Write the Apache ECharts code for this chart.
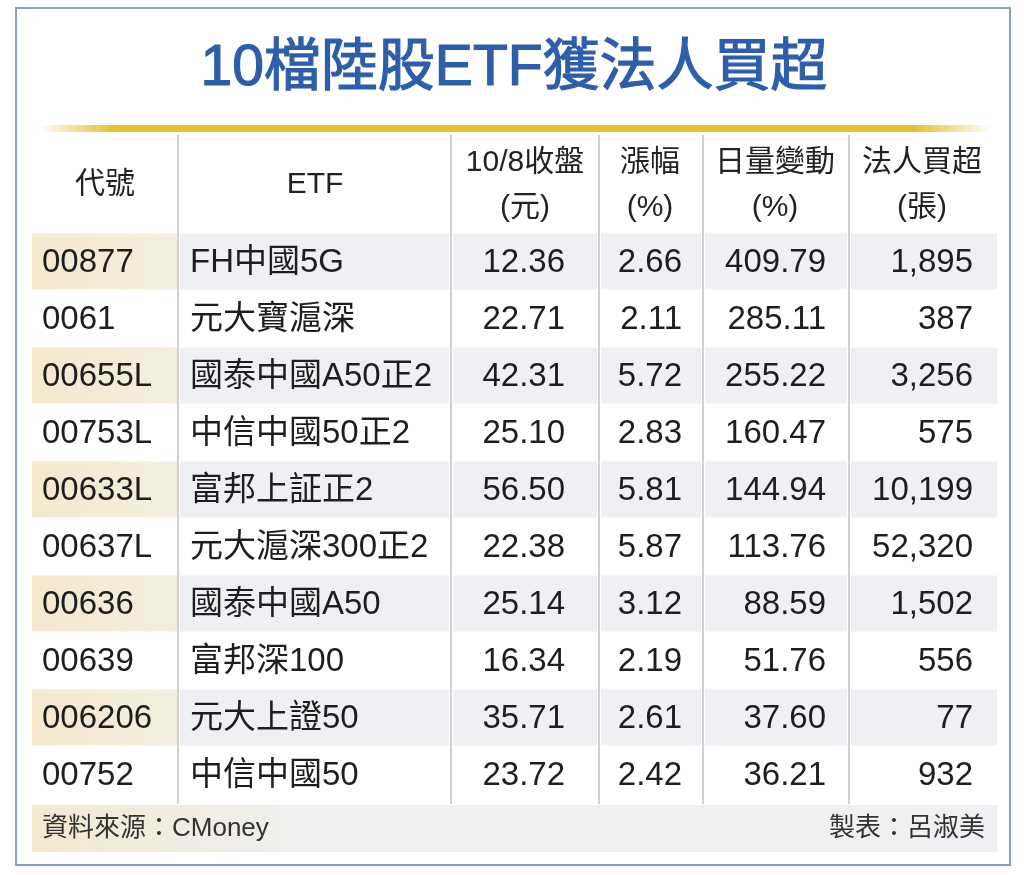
<!DOCTYPE html>
<html>
<head>
<meta charset="utf-8">
<title>10檔陸股ETF獲法人買超</title>
<script src="https://cdn.jsdelivr.net/npm/echarts@6/dist/echarts.min.js"></script>
<style>
html, body { margin: 0; padding: 0; background: #fff; }
#table { width: 1024px; height: 875px; }
</style>
</head>
<body>
<div id="table"></div>
<script>
/* 資料 */
var codes = ['00877', '0061', '00655L', '00753L', '00633L', '00637L', '00636', '00639', '006206', '00752'];
var names = ['FH中國5G', '元大寶滬深', '國泰中國A50正2', '中信中國50正2', '富邦上証正2', '元大滬深300正2', '國泰中國A50', '富邦深100', '元大上證50', '中信中國50'];
var closePrice = [12.36, 22.71, 42.31, 25.10, 56.50, 22.38, 25.14, 16.34, 35.71, 23.72];
var changePct = [2.66, 2.11, 5.72, 2.83, 5.81, 5.87, 3.12, 2.19, 2.61, 2.42];
var volumeChange = [409.79, 285.11, 255.22, 160.47, 144.94, 113.76, 88.59, 51.76, 37.60, 36.21];
var netBuy = [1895, 387, 3256, 575, 10199, 52320, 1502, 556, 77, 932];

var headers = [['代號'], ['ETF'], ['10/8收盤', '(元)'], ['漲幅', '(%)'], ['日量變動', '(%)'], ['法人買超', '(張)']];

var FONT = '"Liberation Sans", "Noto Sans CJK TC", sans-serif';

/* 欄位位置 */
var colX = [42, 190, 565, 682, 826, 973];
var colAlign = ['left', 'left', 'right', 'right', 'right', 'right'];
var headCenter = [105, 315, 525, 650, 775, 922];
var sepX = [178, 451, 599, 703, 849];

var columns = [
    codes,
    names,
    closePrice.map(function (v) { return v.toFixed(2); }),
    changePct.map(function (v) { return v.toFixed(2); }),
    volumeChange.map(function (v) { return v.toFixed(2); }),
    netBuy.map(function (v) { return v.toLocaleString('en-US'); })
];

var cells = [];
var cellData = [];
for (var c = 0; c < columns.length; c++) {
    for (var r = 0; r < columns[c].length; r++) {
        cells.push({ col: c, text: columns[c][r] });
        cellData.push([colX[c], r]);
    }
}

var bandData = [];
for (var i = 0; i < codes.length; i += 2) {
    bandData.push([0, i]);
}

var graphics = [
    {
        type: 'rect', z: 0,
        shape: { x: 16, y: 8, width: 994, height: 857 },
        style: { fill: '#fff', stroke: '#8b9dc3', lineWidth: 2 }
    },
    {
        type: 'text', z: 5, x: 514, y: 69,
        style: { text: '10檔陸股ETF獲法人買超', fontSize: 57, fontWeight: 'normal', fontFamily: FONT,
                 fill: '#2f5ea8', stroke: '#2f5ea8', lineWidth: 1.2,
                 align: 'center', verticalAlign: 'middle' }
    },
    {
        type: 'rect', z: 5,
        shape: { x: 38, y: 125, width: 952, height: 7 },
        style: {
            fill: new echarts.graphic.LinearGradient(0, 0, 1, 0, [
                { offset: 0, color: 'rgba(226,192,48,0)' },
                { offset: 0.08, color: '#e2c232' },
                { offset: 0.92, color: '#e2c232' },
                { offset: 1, color: 'rgba(226,192,48,0)' }
            ])
        }
    },
    /* 資料來源列 */
    {
        type: 'rect', z: 1,
        shape: { x: 32, y: 805, width: 965, height: 47 },
        style: {
            fill: new echarts.graphic.LinearGradient(0, 0, 1, 0, [
                { offset: 0, color: '#f4e9d2' },
                { offset: 0.3, color: '#eff0f1' },
                { offset: 1, color: '#eef0f3' }
            ])
        }
    },
    {
        type: 'text', z: 5, x: 42, y: 829,
        style: { text: '資料來源：CMoney', fontSize: 26, fontFamily: FONT, fill: '#333',
                 align: 'left', verticalAlign: 'middle' }
    },
    {
        type: 'text', z: 5, x: 985, y: 829,
        style: { text: '製表：呂淑美', fontSize: 26, fontFamily: FONT, fill: '#333',
                 align: 'right', verticalAlign: 'middle' }
    }
];

sepX.forEach(function (x) {
    graphics.push({
        type: 'line', z: 10,
        shape: { x1: x, y1: 135, x2: x, y2: 804 },
        style: { stroke: '#c2c2c2', lineWidth: 1.5 }
    });
});

headers.forEach(function (h, k) {
    if (h.length === 1) {
        graphics.push({
            type: 'text', z: 5, x: headCenter[k], y: 185,
            style: { text: h[0], fontSize: 30, fontFamily: FONT, fill: '#222', align: 'center', verticalAlign: 'middle' }
        });
    } else {
        graphics.push({
            type: 'text', z: 5, x: headCenter[k], y: 163,
            style: { text: h[0], fontSize: 30, fontFamily: FONT, fill: '#222', align: 'center', verticalAlign: 'middle' }
        });
        graphics.push({
            type: 'text', z: 5, x: headCenter[k], y: 208,
            style: { text: h[1], fontSize: 30, fontFamily: FONT, fill: '#222', align: 'center', verticalAlign: 'middle' }
        });
    }
});

var chart = echarts.init(document.getElementById('table'));

var option = {
    backgroundColor: '#fff',
    animation: false,
    graphic: graphics,
    grid: { left: 0, right: 0, top: 233, height: 570 },
    xAxis: { type: 'value', min: 0, max: 1024, show: false },
    yAxis: { type: 'category', data: codes, inverse: true, show: false },
    series: [
        {
            name: 'band',
            type: 'custom',
            z: 1,
            data: bandData,
            renderItem: function (params, api) {
                var y = api.coord([0, api.value(1)])[1];
                var h = api.size([0, 1])[1] - 1;
                var top = y - h / 2;
                var segs = [[32, 177], [180, 449], [453, 597], [601, 701], [705, 847], [851, 997]];
                var children = segs.map(function (s, k) {
                    return {
                        type: 'rect',
                        shape: { x: s[0], y: top, width: s[1] - s[0], height: h },
                        style: {
                            fill: k === 0
                                ? new echarts.graphic.LinearGradient(0, 0, 1, 0, [
                                    { offset: 0, color: '#f5e8cf' },
                                    { offset: 1, color: '#f4ede0' }
                                ])
                                : '#eef0f3'
                        }
                    };
                });
                return { type: 'group', children: children };
            }
        },
        {
            name: 'cells',
            type: 'custom',
            z: 5,
            data: cellData,
            renderItem: function (params, api) {
                var p = api.coord([api.value(0), api.value(1)]);
                var cell = cells[params.dataIndex];
                return {
                    type: 'text',
                    x: p[0],
                    y: p[1] + 1,
                    style: {
                        text: cell.text,
                        fontSize: 33,
                        fontFamily: FONT,
                        fill: '#1e1e1e',
                        align: colAlign[cell.col],
                        verticalAlign: 'middle'
                    }
                };
            }
        }
    ]
};

chart.setOption(option);
</script>
</body>
</html>
